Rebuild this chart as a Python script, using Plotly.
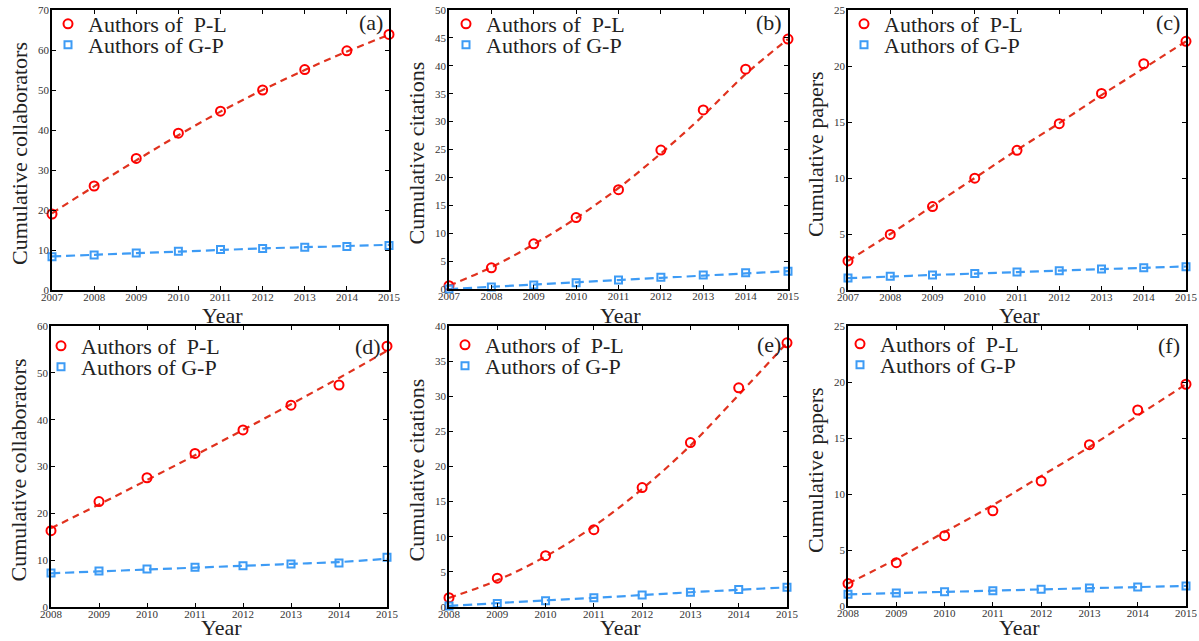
import plotly.graph_objects as go

years_top = [2007, 2008, 2009, 2010, 2011, 2012, 2013, 2014, 2015]
years_bot = [2008, 2009, 2010, 2011, 2012, 2013, 2014, 2015]

# (a) cumulative collaborators 2007-2015
a_pl = [19.0, 26.0, 32.9, 39.2, 44.7, 50.0, 55.1, 59.8, 63.9]
a_gp = [8.3, 8.75, 9.25, 9.7, 10.1, 10.4, 10.7, 10.9, 11.1]
a_pl_fit = [19.2, 25.9, 32.4, 38.7, 44.6, 50.0, 55.0, 59.6, 63.8]
a_gp_fit = [8.4, 8.8, 9.2, 9.6, 10.0, 10.4, 10.7, 11.0, 11.3]

# (b) cumulative citations 2007-2015
b_pl = [0.6, 3.8, 8.1, 12.8, 17.8, 24.9, 32.1, 39.4, 44.8]
b_gp = [0.0, 0.35, 0.7, 1.1, 1.6, 2.1, 2.5, 2.9, 3.2]
b_pl_fit = [0.6, 3.9, 8.0, 12.7, 18.1, 24.3, 31.1, 38.5, 44.8]
b_gp_fit = [0.0, 0.4, 0.8, 1.2, 1.6, 2.0, 2.4, 2.8, 3.2]

# (c) cumulative papers 2007-2015
c_pl = [2.6, 4.96, 7.45, 9.98, 12.47, 14.85, 17.55, 20.2, 22.2]
c_gp = [1.07, 1.22, 1.34, 1.48, 1.6, 1.72, 1.87, 1.99, 2.08]
c_pl_fit = [2.6, 5.0, 7.5, 10.0, 12.5, 14.9, 17.4, 19.8, 22.2]
c_gp_fit = [1.06, 1.2, 1.34, 1.47, 1.6, 1.73, 1.86, 1.98, 2.1]

# (d) cumulative collaborators 2008-2015
d_pl = [16.3, 22.5, 27.6, 32.8, 37.8, 43.1, 47.4, 55.7]
d_gp = [7.25, 7.7, 8.1, 8.5, 8.8, 9.2, 9.4, 10.6]
d_pl_fit = [16.8, 21.9, 27.1, 32.4, 37.8, 43.3, 48.9, 54.7]
d_gp_fit = [7.2, 7.6, 8.0, 8.4, 8.8, 9.2, 9.6, 10.3]

# (e) cumulative citations 2008-2015
e_pl = [1.33, 4.1, 7.3, 11.0, 17.0, 23.4, 31.2, 37.6]
e_gp = [0.15, 0.5, 0.9, 1.33, 1.7, 2.1, 2.5, 2.8]
e_pl_fit = [1.3, 3.8, 7.2, 11.5, 16.8, 23.0, 30.2, 37.6]
e_gp_fit = [0.15, 0.55, 0.95, 1.3, 1.7, 2.1, 2.45, 2.8]

# (f) cumulative papers 2008-2015
f_pl = [2.0, 3.87, 6.28, 8.5, 11.16, 14.4, 17.5, 19.8]
f_gp = [1.04, 1.16, 1.28, 1.37, 1.49, 1.6, 1.7, 1.79]
f_pl_fit = [2.0, 4.2, 6.6, 9.0, 11.6, 14.2, 17.0, 19.8]
f_gp_fit = [1.04, 1.15, 1.26, 1.37, 1.48, 1.59, 1.69, 1.79]

y_titles = ["Cumulative collaborators", "Cumulative citations", "Cumulative papers",
            "Cumulative collaborators", "Cumulative citations", "Cumulative papers"]
x_title = "Year"
panel_labels = ["(a)", "(b)", "(c)", "(d)", "(e)", "(f)"]
y_max = [70, 50, 25, 60, 40, 25]
y_dtick = [10, 5, 5, 10, 5, 5]

panels = [
    (years_top, a_pl, a_gp, a_pl_fit, a_gp_fit),
    (years_top, b_pl, b_gp, b_pl_fit, b_gp_fit),
    (years_top, c_pl, c_gp, c_pl_fit, c_gp_fit),
    (years_bot, d_pl, d_gp, d_pl_fit, d_gp_fit),
    (years_bot, e_pl, e_gp, e_pl_fit, e_gp_fit),
    (years_bot, f_pl, f_gp, f_pl_fit, f_gp_fit),
]

W, H = 1199, 641


def px(xp):
    return xp / W


def py(yp):
    return 1 - yp / H


# pixel boxes (left, right, top, bottom)
boxes = [
    (52, 389, 10, 290), (449, 788, 10, 289), (848, 1186, 10, 290),
    (51, 387, 326, 607), (449, 787, 326, 607), (848, 1186, 326, 606),
]
legend_sym_dx = [18, 19, 18, 12, 18, 14]
legend_dy = [14, 14, 14, 20, 19, 18]
label_dy = [13, 13, 13, 20, 18, 19]
year_y = [315, 315, 315, 627, 627, 627]

RED = "#ff0000"
RED_LINE = "#e0321e"
BLUE = "#3d9bf5"
SERIF = "Liberation Serif, Times New Roman, serif"

fig = go.Figure()
layout = dict(width=W, height=H, margin=dict(l=0, r=0, t=0, b=0, autoexpand=False),
              paper_bgcolor="white", plot_bgcolor="white", showlegend=True,
              font=dict(family=SERIF, color="#222"))
annotations = []

for i, (yrs, pl, gp, plf, gpf) in enumerate(panels):
    n = i + 1
    xa = "x" if n == 1 else f"x{n}"
    ya = "y" if n == 1 else f"y{n}"
    lg1 = "legend" if n == 1 else f"legend{2 * n - 1}"
    lg2 = f"legend{2 * n}"
    fig.add_trace(go.Scatter(x=yrs, y=plf, mode="lines", line=dict(color=RED_LINE, width=2.2, dash="7px,5px", shape="spline"),
                             xaxis=xa, yaxis=ya, showlegend=False, hoverinfo="skip"))
    fig.add_trace(go.Scatter(x=yrs, y=gpf, mode="lines", line=dict(color=BLUE, width=2.2, dash="9px,5px", shape="spline"),
                             xaxis=xa, yaxis=ya, showlegend=False, hoverinfo="skip"))
    fig.add_trace(go.Scatter(x=yrs, y=pl, mode="markers", name="Authors of  P-L",
                             marker=dict(symbol="circle-open", size=9, color=RED, line=dict(width=2, color=RED)),
                             xaxis=xa, yaxis=ya, legend=lg1, cliponaxis=False))
    fig.add_trace(go.Scatter(x=yrs, y=gp, mode="markers", name="Authors of G-P",
                             marker=dict(symbol="square-open", size=7, color=BLUE, line=dict(width=2, color=BLUE)),
                             xaxis=xa, yaxis=ya, legend=lg2, cliponaxis=False))
    l, r, t, b = boxes[i]
    axis_common = dict(showline=True, linecolor="black", linewidth=1.5, mirror="ticks",
                       ticks="inside", ticklen=4, tickcolor="black", showgrid=False, zeroline=False,
                       automargin=False,
                       tickfont=dict(family=SERIF, size=11, color="#333"))
    layout[f"xaxis{'' if n == 1 else n}"] = dict(
        domain=[px(l), px(r)], anchor=ya, range=[yrs[0], yrs[-1]], tickmode="array", tickvals=yrs,
        ticktext=[str(y) for y in yrs], ticklabelstandoff=-4, **axis_common)
    layout[f"yaxis{'' if n == 1 else n}"] = dict(
        domain=[py(b), py(t)], anchor=xa, range=[0, y_max[i]], dtick=y_dtick[i], tick0=0,
        ticklabelstandoff=-1, **axis_common)
    for k, lg in enumerate([lg1, lg2]):
        layout[lg] = dict(x=px(l + legend_sym_dx[i] - 22), y=py(t + legend_dy[i] + 21 * k),
                          xanchor="left", yanchor="middle",
                          bgcolor="rgba(0,0,0,0)", font=dict(family=SERIF, size=22, color="#222"),
                          itemwidth=30, tracegroupgap=0)
    annotations.append(dict(text=panel_labels[i], xref="paper", yref="paper",
                            x=px(r - 4), y=py(t + label_dy[i]), xanchor="right", yanchor="middle",
                            showarrow=False, font=dict(family=SERIF, size=22, color="#222")))
    annotations.append(dict(text=x_title, xref="paper", yref="paper",
                            x=px((l + r) / 2 + 2), y=py(year_y[i]), xanchor="center", yanchor="middle",
                            showarrow=False, font=dict(family=SERIF, size=22, color="#222")))
    annotations.append(dict(text=y_titles[i], xref="paper", yref="paper", textangle=-90,
                            x=px(l - 33), y=py((t + b) / 2 + 4), xanchor="center", yanchor="middle",
                            showarrow=False, font=dict(family=SERIF, size=22, color="#222")))

layout["annotations"] = annotations
fig.update_layout(**layout)
fig.write_html("out.html", config={"displayModeBar": False},
               post_script="document.body.style.margin='0';document.body.style.overflow='hidden';")
